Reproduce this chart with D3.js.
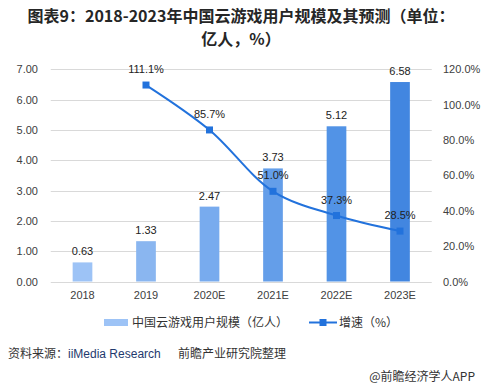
<!DOCTYPE html>
<html><head><meta charset="utf-8">
<script src="https://cdn.jsdelivr.net/npm/d3@7"></script>
<style>body{margin:0;background:#fff;}svg{display:block;font-family:"Noto Sans CJK SC","Microsoft YaHei",sans-serif;}</style>
</head><body>
<script>
const categories = ["2018","2019","2020E","2021E","2022E","2023E"];
const users = [0.63,1.33,2.47,3.73,5.12,6.58];
const growth = [null,111.1,85.7,51.0,37.3,28.5];
const leftTicks = [0,1,2,3,4,5,6,7];
const rightTicks = [0,20,40,60,80,100,120];
const barColors = ["#9dc3f6","#8ab6f0","#78abee","#649ee9","#5293e6","#4286e0"];

const W=482,H=389;
const svg=d3.select("body").append("svg").attr("width",W).attr("height",H);
const x=d3.scaleBand().domain(categories).range([50.75,431.75]).paddingInner(0.69).paddingOuter(0.345);
const y=d3.scaleLinear().domain([0,7]).range([281.5,69.3]);
const y2=d3.scaleLinear().domain([0,120]).range([281.5,69.3]);

// title
const title=svg.append("g").attr("font-weight","bold").attr("font-size",16).attr("fill","#262626").attr("text-anchor","middle");
title.append("text").attr("x",241).attr("y",22).text("图表9：2018-2023年中国云游戏用户规模及其预测（单位：");
title.append("text").attr("x",241).attr("y",45).text("亿人，%）");

// grid
svg.append("g").selectAll("line").data(leftTicks).join("line")
 .attr("x1",50.75).attr("x2",431.75).attr("y1",d=>Math.round(y(d))+0.5).attr("y2",d=>Math.round(y(d))+0.5)
 .attr("stroke","#d9d9d9").attr("stroke-width",1);

// left axis
const la=svg.append("g").attr("transform","translate(38,0)").call(d3.axisLeft(y).tickValues(leftTicks).tickFormat(d3.format(".2f")).tickSize(0).tickPadding(0));
la.select(".domain").remove();
la.selectAll("text").attr("font-size",11).attr("fill","#404040").attr("font-family","'Liberation Sans',Arial,sans-serif");
// right axis
const ra=svg.append("g").attr("transform","translate(443,0)").call(d3.axisRight(y2).tickValues(rightTicks).tickFormat(d=>d.toFixed(1)+"%").tickSize(0).tickPadding(0));
ra.select(".domain").remove();
ra.selectAll("text").attr("font-size",11).attr("fill","#404040").attr("font-family","'Liberation Sans',Arial,sans-serif");
// x axis
const xa=svg.append("g").attr("transform","translate(0,291)").call(d3.axisBottom(x).tickSize(0).tickPadding(0));
xa.select(".domain").remove();
xa.selectAll("text").attr("font-size",11).attr("fill","#404040").attr("dy","0.71em").attr("font-family","'Liberation Sans',Arial,sans-serif");

// bars
svg.append("g").selectAll("rect").data(users).join("rect")
 .attr("x",(d,i)=>x(categories[i])).attr("width",x.bandwidth())
 .attr("y",d=>y(d)).attr("height",d=>y(0)-y(d)).attr("fill",(d,i)=>barColors[i]);
svg.append("g").selectAll("text").data(users).join("text")
 .attr("x",(d,i)=>x(categories[i])+x.bandwidth()/2).attr("y",d=>y(d)-7)
 .attr("text-anchor","middle").attr("font-size",11).attr("fill","#222").attr("font-family","'Liberation Sans',Arial,sans-serif")
 .text(d=>d.toFixed(2));

// line
const pts=growth.map((g,i)=>({g,c:categories[i]})).filter(p=>p.g!==null);
const cx=p=>x(p.c)+x.bandwidth()/2;
svg.append("path").datum(pts).attr("fill","none").attr("stroke","#2272dc").attr("stroke-width",2)
 .attr("d",d3.line().x(cx).y(p=>y2(p.g)).curve(d3.curveCatmullRom.alpha(0.5)));
svg.append("g").selectAll("rect").data(pts).join("rect")
 .attr("x",p=>cx(p)-3.5).attr("y",p=>y2(p.g)-3.5).attr("width",7).attr("height",7).attr("fill","#2272dc");
svg.append("g").selectAll("text").data(pts).join("text")
 .attr("x",cx).attr("y",p=>y2(p.g)-12)
 .attr("text-anchor","middle").attr("font-size",11).attr("fill","#222").attr("font-family","'Liberation Sans',Arial,sans-serif")
 .text(p=>p.g.toFixed(1)+"%");

// legend
const lg=svg.append("g");
lg.append("rect").attr("x",104).attr("y",319).attr("width",24).attr("height",7).attr("fill","#9dc3f6");
lg.append("text").attr("x",132).attr("y",327).attr("font-size",12).attr("fill","#333").text("中国云游戏用户规模（亿人）");
lg.append("line").attr("x1",309).attr("x2",337).attr("y1",322.5).attr("y2",322.5).attr("stroke","#2272dc").attr("stroke-width",2);
lg.append("rect").attr("x",319.5).attr("y",319).attr("width",7).attr("height",7).attr("fill","#2272dc");
lg.append("text").attr("x",339).attr("y",327).attr("font-size",12).attr("fill","#333").text("增速（%）");

// source
const src=svg.append("text").attr("x",8).attr("y",358).attr("font-size",12).attr("fill","#333");
src.append("tspan").text("资料来源：");
src.append("tspan").attr("fill","#1f3a6e").attr("font-family","'Liberation Sans',Arial,sans-serif").text("iiMedia Research");
src.append("tspan").attr("x",178).text("前瞻产业研究院整理");
svg.append("text").attr("x",475).attr("y",381).attr("text-anchor","end").attr("font-size",12).attr("fill","#333").text("@前瞻经济学人APP");
</script>
</body></html>
